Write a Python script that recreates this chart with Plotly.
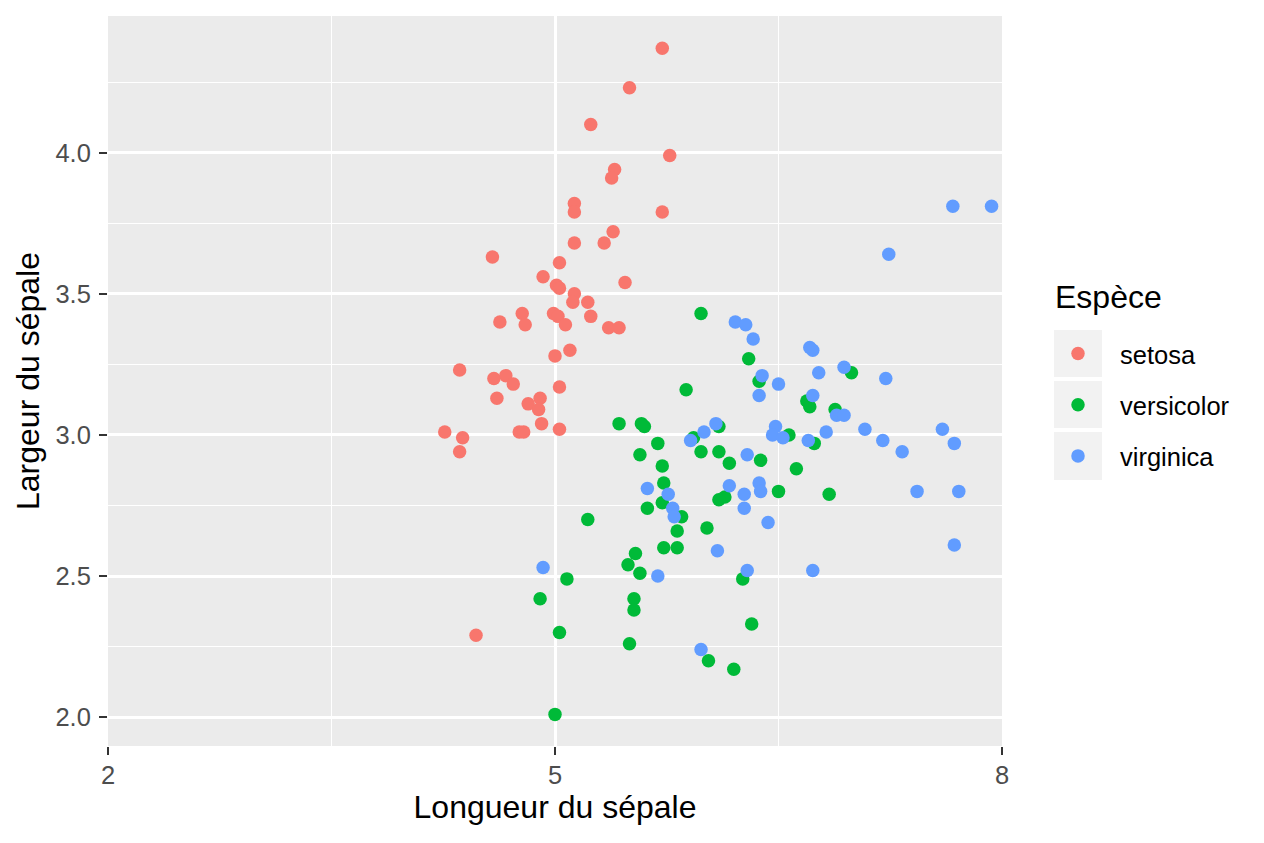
import plotly.graph_objects as go

# iris, sepal length vs sepal width (jittered)
setosa_x = [5.72, 5.50, 5.24, 5.77, 5.40, 5.38, 5.13, 5.13, 5.72, 5.39,
            5.13, 5.33, 4.58, 5.03, 4.92, 5.47, 5.01, 5.03, 5.13, 5.12,
            5.22, 4.78, 4.63, 4.80, 4.99, 5.02, 5.07, 5.24, 5.36, 5.43,
            5.10, 5.00, 4.36, 4.59, 4.67, 4.72, 5.03, 4.61, 4.90, 4.82,
            4.89, 4.91, 5.03, 4.76, 4.79, 4.26, 4.38, 4.36, 4.47]
setosa_y = [4.37, 4.23, 4.10, 3.99, 3.94, 3.91, 3.82, 3.79, 3.79, 3.72,
            3.68, 3.68, 3.63, 3.61, 3.56, 3.54, 3.53, 3.52, 3.50, 3.47,
            3.47, 3.43, 3.40, 3.39, 3.43, 3.42, 3.39, 3.42, 3.38, 3.38,
            3.30, 3.28, 3.23, 3.20, 3.21, 3.18, 3.17, 3.13, 3.13, 3.11,
            3.09, 3.04, 3.02, 3.01, 3.01, 3.01, 2.99, 2.94, 2.29]

versicolor_x = [5.98, 6.30, 6.37, 5.88, 6.69, 6.71, 6.88, 6.99, 5.43, 5.58,
                5.60, 6.10, 5.93, 6.57, 6.74, 5.69, 5.57, 5.98, 6.10, 6.17,
                6.38, 5.72, 6.62, 5.73, 6.50, 6.84, 6.14, 6.10, 5.72, 5.62,
                5.85, 5.82, 6.02, 5.73, 5.82, 5.54, 5.49, 5.57, 6.26, 5.53,
                5.53, 6.32, 5.50, 6.03, 6.20, 5.22, 5.08, 4.90, 5.03, 5.00]
versicolor_y = [3.43, 3.27, 3.19, 3.16, 3.12, 3.10, 3.09, 3.22, 3.04, 3.04,
                3.03, 3.03, 2.99, 3.00, 2.97, 2.97, 2.93, 2.94, 2.94, 2.90,
                2.91, 2.89, 2.88, 2.83, 2.80, 2.79, 2.78, 2.77, 2.76, 2.74,
                2.71, 2.66, 2.67, 2.60, 2.60, 2.58, 2.54, 2.51, 2.49, 2.42,
                2.38, 2.33, 2.26, 2.20, 2.17, 2.70, 2.49, 2.42, 2.30, 2.01]

virginica_x = [6.21, 6.28, 6.33, 6.71, 6.73, 6.94, 6.77, 6.39, 6.50, 6.37,
               6.73, 6.89, 6.94, 6.82, 6.48, 6.46, 6.53, 6.08, 6.00, 5.91,
               6.70, 6.29, 5.62, 5.76, 6.17, 6.37, 6.38, 6.27, 5.79, 5.80,
               6.27, 6.43, 6.09, 5.69, 6.29, 6.73, 5.98, 4.92, 7.67, 7.93,
               7.24, 7.22, 7.08, 7.20, 7.33, 7.60, 7.68, 7.43, 7.71, 7.68]
virginica_y = [3.40, 3.39, 3.34, 3.31, 3.30, 3.24, 3.22, 3.21, 3.18, 3.14,
               3.14, 3.07, 3.07, 3.01, 3.03, 3.00, 2.99, 3.04, 3.01, 2.98,
               2.98, 2.93, 2.81, 2.79, 2.82, 2.83, 2.80, 2.79, 2.74, 2.71,
               2.74, 2.69, 2.59, 2.50, 2.52, 2.52, 2.24, 2.53, 3.81, 3.81,
               3.64, 3.20, 3.02, 2.98, 2.94, 3.02, 2.97, 2.80, 2.80, 2.61]

especes = ["setosa", "versicolor", "virginica"]
couleurs = ["#F8766D", "#00BA38", "#619CFF"]
xs = [setosa_x, versicolor_x, virginica_x]
ys = [setosa_y, versicolor_y, virginica_y]

font = "Liberation Sans, Arial, sans-serif"

fig = go.Figure()
for nom, coul, x, y in zip(especes, couleurs, xs, ys):
    fig.add_trace(go.Scatter(x=x, y=y, mode="markers", name=nom, legendgroup=nom,
                             marker=dict(color=coul, size=13.5, line=dict(width=0))))

# fond gris des clés de légende (comme ggplot)
for y0, y1 in [(330, 377), (381, 428), (432, 480)]:
    fig.add_shape(type="rect", xref="paper", yref="paper",
                  x0=(1054 - 108) / 894, x1=(1102 - 108) / 894,
                  y0=(746 - y1) / 730, y1=(746 - y0) / 730,
                  fillcolor="#F2F2F2", line=dict(width=0), layer="below")

# titre de la légende
fig.add_annotation(text="Espèce", xref="paper", yref="paper",
                   x=(1053 - 108) / 894, y=(746 - 297) / 730,
                   xanchor="left", yanchor="middle", showarrow=False,
                   font=dict(size=32, color="black"))

axe = dict(showline=False, zeroline=False, gridcolor="white", gridwidth=2.6,
           ticks="outside", ticklen=8, tickwidth=2.4, tickcolor="#333333",
           tickfont=dict(family=font, size=25.5, color="#4D4D4D"))

# la page html ajoute une marge de 8 px autour de la figure
fig.update_layout(
    width=1256, height=835, autosize=False,
    margin=dict(l=100, r=262, t=8, b=97),
    plot_bgcolor="#EBEBEB", paper_bgcolor="white",
    font=dict(family=font, color="black"),
    xaxis=dict(axe, range=[2, 8], tick0=2, dtick=3, ticklabelstandoff=-2,
               minor=dict(tick0=2, dtick=1.5, showgrid=True, gridcolor="white", gridwidth=1.3),
               title=dict(text="Longueur du sépale", font=dict(size=32), standoff=6)),
    yaxis=dict(axe, range=[1.898, 4.484], tick0=2, dtick=0.5, tickformat=".1f",
               ticklabelstandoff=3,
               minor=dict(tick0=2, dtick=0.25, showgrid=True, gridcolor="white", gridwidth=1.3),
               title=dict(text="Largeur du sépale", font=dict(size=32), standoff=6)),
    legend=dict(x=(1036 - 108) / 894, xanchor="left",
                y=(746 - 405) / 730, yanchor="middle",
                bgcolor="rgba(0,0,0,0)", tracegroupgap=15, itemwidth=74,
                font=dict(size=25.5)),
)

fig.write_html("out.html")
